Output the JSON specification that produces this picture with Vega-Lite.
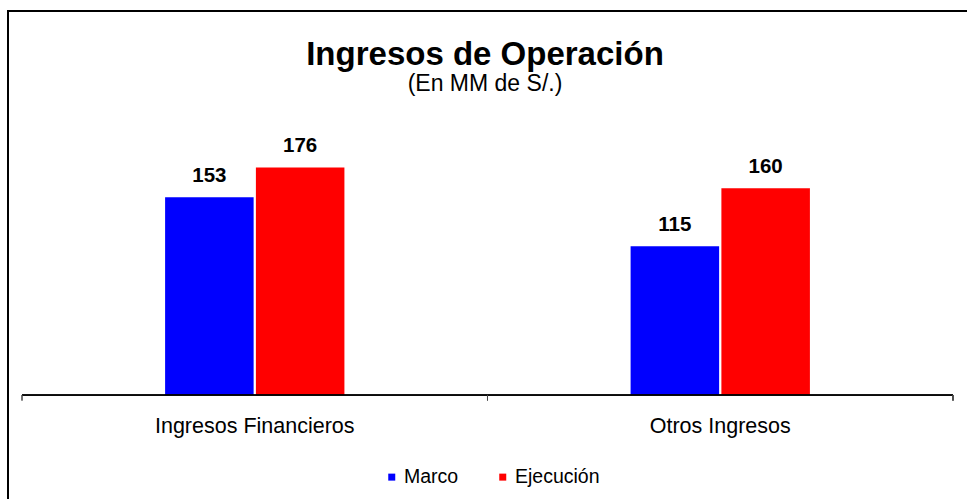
{
  "$schema": "https://vega.github.io/schema/vega-lite/v6.json",
  "width": 962,
  "height": 492,
  "autosize": {"type": "none"},
  "padding": {"left": 8, "top": 11, "right": 0, "bottom": 0},
  "background": "white",
  "config": {"view": {"stroke": "#000000", "strokeWidth": 2}, "font": "Liberation Sans"},
  "title": {
    "text": "Ingresos de Operación",
    "subtitle": "(En MM de S/.)",
    "font": "Liberation Sans",
    "subtitleFont": "Liberation Sans",
    "fontSize": 33,
    "fontWeight": "bold",
    "subtitleFontSize": 23,
    "subtitleColor": "#000000",
    "color": "#000000",
    "anchor": "middle",
    "frame": "group",
    "offset": -85,
    "dx": -4,
    "subtitlePadding": 1
  },
  "data": {
    "values": [
      {"cat": "Ingresos Financieros", "serie": "Marco", "value": 153},
      {"cat": "Ingresos Financieros", "serie": "Ejecución", "value": 176},
      {"cat": "Otros Ingresos", "serie": "Marco", "value": 115},
      {"cat": "Otros Ingresos", "serie": "Ejecución", "value": 160}
    ]
  },
  "resolve": {"scale": {"x": "independent"}, "axis": {"x": "independent"}},
  "layer": [
    {
      "layer": [
        {
          "mark": {"type": "bar"},
          "encoding": {
            "x": {
              "field": "cat", "type": "nominal", "sort": null,
              "scale": {"paddingInner": 0.6148, "paddingOuter": 0.3407, "align": 0.4953},
              "axis": null
            },
            "xOffset": {
              "field": "serie", "type": "nominal",
              "scale": {"domain": ["Marco", "Ejecución"], "paddingInner": 0.025, "paddingOuter": 0}
            },
            "y": {
              "field": "value", "type": "quantitative",
              "scale": {"domain": [-83.5, 297], "nice": false, "zero": false},
              "axis": null
            },
            "y2": {"datum": 0},
            "color": {
              "field": "serie", "type": "nominal",
              "scale": {"domain": ["Marco", "Ejecución"], "range": ["#0000FF", "#FF0000"]},
              "legend": {
                "orient": "none", "legendX": 374, "legendY": 456, "direction": "horizontal",
                "title": null, "symbolType": "square", "symbolSize": 49, "symbolStrokeWidth": 0,
                "symbolOpacity": 1, "labelFontSize": 19.5, "labelFont": "Liberation Sans",
                "labelColor": "#000000", "columnPadding": 34, "labelOffset": 2.5, "padding": 0
              }
            }
          }
        },
        {
          "mark": {"type": "text", "fontWeight": "bold", "fontSize": 20.5, "baseline": "alphabetic", "dy": -15.5, "color": "#000000", "font": "Liberation Sans"},
          "encoding": {
            "x": {"field": "cat", "type": "nominal", "sort": null},
            "xOffset": {"field": "serie", "type": "nominal"},
            "y": {"field": "value", "type": "quantitative"},
            "text": {"field": "value", "type": "quantitative"}
          }
        }
      ]
    },
    {
      "layer": [
        {
          "mark": {"type": "rect", "fill": null, "stroke": "#000000", "strokeWidth": 1},
          "encoding": {
            "x": {
              "field": "cat", "type": "nominal", "sort": null,
              "scale": {"paddingInner": 0, "paddingOuter": 0.0333, "align": 0.4516},
              "axis": {"orient": "bottom", "offset": -108, "domain": false, "ticks": false, "grid": false, "title": null, "labelAngle": 0, "labelFontSize": 21.5, "labelColor": "#000000", "labelFont": "Liberation Sans", "labelPadding": 20.5, "labelLimit": 500}
            },
            "y": {"datum": 0},
            "y2": {"datum": 0}
          }
        },
        {
          "mark": {"type": "rule", "color": "#444444", "strokeWidth": 1},
          "encoding": {
            "x": {"field": "cat", "type": "nominal", "sort": null, "bandPosition": 0},
            "y": {"datum": 0},
            "y2": {"datum": -4.3}
          }
        },
        {
          "mark": {"type": "rule", "color": "#444444", "strokeWidth": 1},
          "encoding": {
            "x": {"datum": "Otros Ingresos", "bandPosition": 1},
            "y": {"datum": 0},
            "y2": {"datum": -4.3}
          }
        }
      ]
    }
  ]
}
